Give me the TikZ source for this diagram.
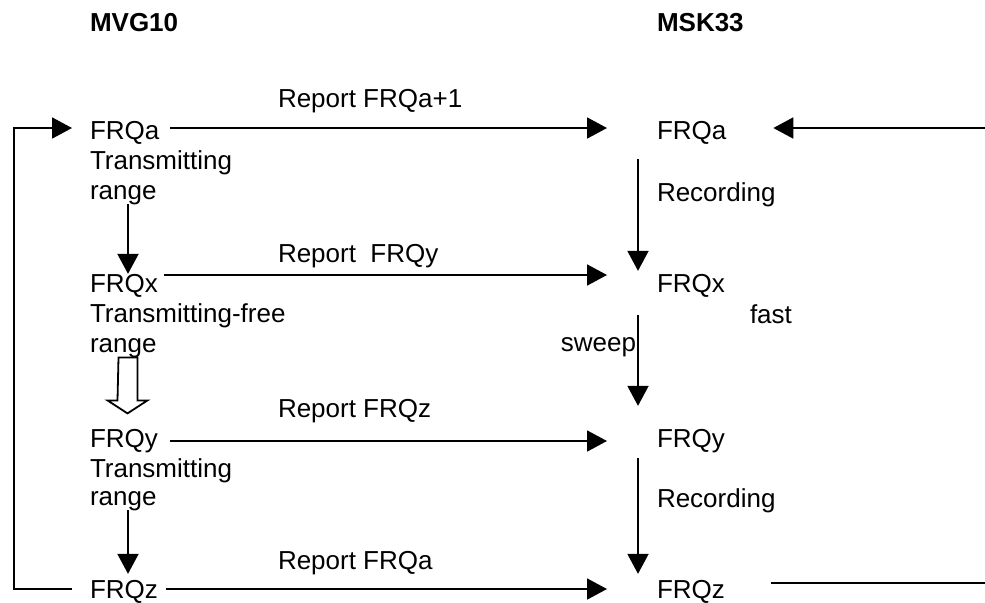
\documentclass[tikz,border=0pt]{standalone}
\usepackage{fontspec}
\setmainfont{Liberation Sans}
\usetikzlibrary{arrows.meta,positioning}

\begin{document}
\begin{tikzpicture}[
  x=0.5pt,y=-0.5pt,
  txt/.style={inner sep=0pt,outer sep=0pt,anchor=base west,font=\fontsize{13}{15}\selectfont},
  head/.style={txt,font=\fontsize{13}{15}\selectfont\bfseries},
  pfeil/.style={line width=0.9pt,-{Triangle[length=10pt,width=10.5pt]}},
  hohl/.style={line width=0.9pt,fill=white}
]
  \useasboundingbox (0,0) rectangle (985,602);

  % Spaltenkoepfe
  \node[head] (mvg) at (90,31) {MVG10};
  \node[head] (msk) at (657,31) {MSK33};

  % linke Spalte (MVG10)
  \node[txt] (lA) at (90,139) {FRQa};
  \node[txt] (lA1) at ([yshift=-15pt]lA.base west) {Transmitting};
  \node[txt] (lA2) at ([yshift=-15pt]lA1.base west) {range};
  \node[txt] (lB) at (90,292) {FRQx};
  \node[txt] (lB1) at ([yshift=-15pt]lB.base west) {Transmitting-free};
  \node[txt] (lB2) at ([yshift=-15pt]lB1.base west) {range};
  \node[txt] (lC) at (90,447) {FRQy};
  \node[txt] (lC1) at ([yshift=-15pt]lC.base west) {Transmitting};
  \node[txt] (lC2) at ([yshift=-14pt]lC1.base west) {range};
  \node[txt] (lD) at (90,598) {FRQz};

  % rechte Spalte (MSK33)
  \node[txt] (rA) at (657,139) {FRQa};
  \node[txt] (rB) at (657,292) {FRQx};
  \node[txt] (rC) at (657,447) {FRQy};
  \node[txt] (rD) at (657,598) {FRQz};
  \node[txt] (rec1) at (657,201) {Recording};
  \node[txt] (fast) at (750,323) {fast};
  \node[txt,anchor=base east] (sweep) at (636,351) {sweep};
  \node[txt] (rec2) at (657,507) {Recording};

  % Meldungen
  \node[txt] (rpA) at (278,107) {Report FRQa+1};
  \node[txt] (rpB) at (278,262) {Report\ \ FRQy};
  \node[txt] (rpC) at (278,417) {Report FRQz};
  \node[txt] (rpD) at (278,569) {Report FRQa};

  \coordinate (yA) at (0,128);
  \coordinate (yB) at (0,275);
  \coordinate (yC) at (0,441);
  \coordinate (yD) at (0,589);
  \coordinate (lx) at (128,0);
  \coordinate (rx) at (638,0);
  \coordinate (lp) at (14,0);
  \coordinate (eA) at (985,128);
  \coordinate (eD) at (985,583);

  % Meldungspfeile
  \draw[pfeil,shorten <=5.5pt,shorten >=25pt] (lA.east |- yA) -- (rA.west |- yA);
  \draw[pfeil,shorten <=3pt,shorten >=25pt] (lB.east |- yB) -- (rB.west |- yB);
  \draw[pfeil,shorten <=6pt,shorten >=25pt] (lC.east |- yC) -- (rC.west |- yC);
  \draw[pfeil,shorten <=4pt,shorten >=25pt] (lD.east |- yD) -- (rD.west |- yD);

  % Rueckfuehrung
  \draw[pfeil,shorten <=9pt,shorten >=9pt] (lD.west |- yD) -- (lp |- yD) -- (lp |- yA) -- (lA.west |- yA);
  \draw[pfeil,shorten >=23.5pt] (eA) -- (rA.east |- eA);
  \draw[line width=0.9pt,shorten <=23pt] (rD.east |- eD) -- (eD);

  % Ablauf MVG10
  \draw[pfeil] (lA2.south -| lx) -- (lB.north -| lx);
  \draw[hohl] (lB2.south -| lx) ++(-9.5,0) -- ++(19,0) -- ++(0,43) -- ++(10,0)
    -- ++(-20,13) -- ++(-20,-13) -- ++(10,0) -- cycle;
  \draw[pfeil,shorten >=3pt] (lC2.south -| lx) -- (lD.north -| lx);

  % Ablauf MSK33
  \draw[pfeil,shorten <=7.5pt,shorten >=1.5pt] (rA.south -| rx) -- (rB.north -| rx);
  \draw[pfeil,shorten <=9pt,shorten >=11.5pt] (rB.south -| rx) -- (rC.north -| rx);
  \draw[pfeil,shorten <=3pt,shorten >=3pt] (rC.south -| rx) -- (rD.north -| rx);
\end{tikzpicture}
\end{document}
